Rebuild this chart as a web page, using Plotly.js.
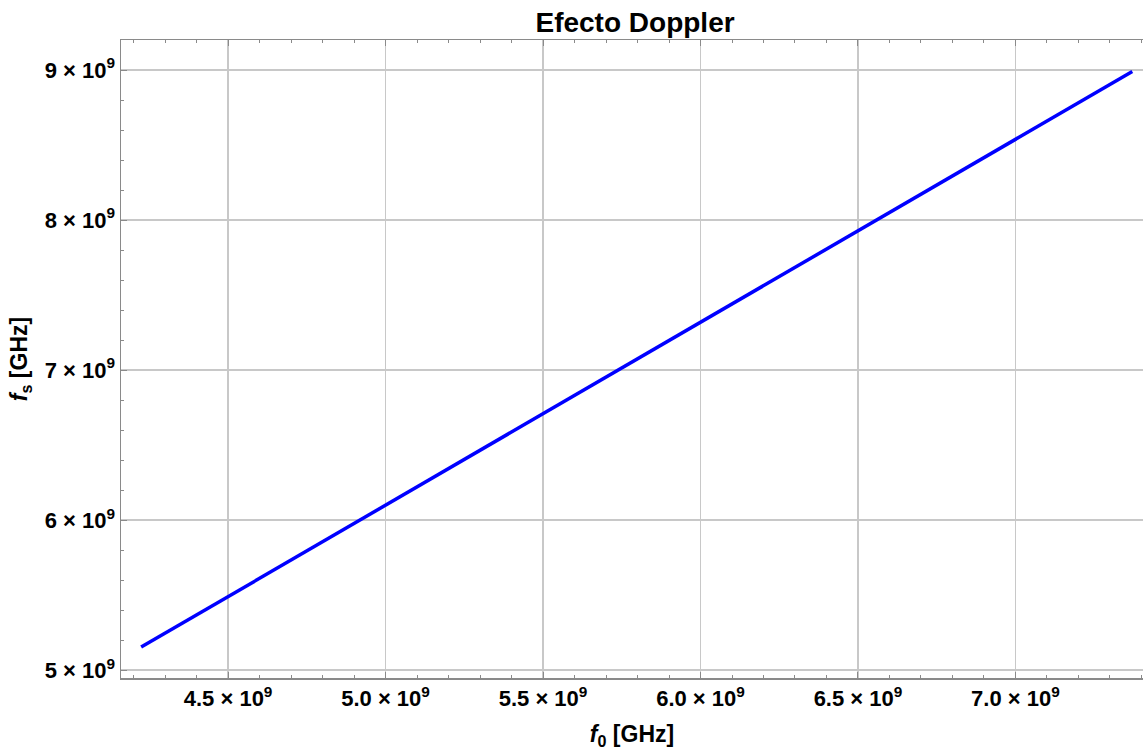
<!DOCTYPE html>
<html>
<head>
<meta charset="utf-8">
<script src="https://cdn.plot.ly/plotly-3.0.1.min.js"></script>
<style>
  html, body { margin: 0; padding: 0; background: #fff; }
  #chart { width: 1143px; height: 755px; }
</style>
</head>
<body>
<div id="chart"></div>
<script>
// Emitted frequency f0 and observed frequency fs (Hz)
const f0 = [4.224e9, 5.0e9, 5.5e9, 6.0e9, 6.5e9, 7.0e9, 7.371e9];
const fs = [5.153e9, 6.100e9, 6.710e9, 7.322e9, 7.932e9, 8.540e9, 8.990e9];

// Tick positions and labels
const xTickVals = [4.5e9, 5.0e9, 5.5e9, 6.0e9, 6.5e9, 7.0e9];
const xTickText = ['4.5', '5.0', '5.5', '6.0', '6.5', '7.0'];
const yTickVals = [5e9, 6e9, 7e9, 8e9, 9e9];
const yTickText = ['5', '6', '7', '8', '9'];

const sci = m => m + ' × 10<sup>9</sup>';
const FONT = 'Liberation Sans, Arial, sans-serif';

const trace = {
  x: f0,
  y: fs,
  type: 'scatter',
  mode: 'lines',
  line: { color: '#0000ff', width: 3.5 },
  hoverinfo: 'skip'
};

const axisCommon = {
  showline: true,
  linecolor: '#8a8a8a',
  linewidth: 1.5,
  ticks: 'inside',
  ticklen: 6,
  tickwidth: 1,
  tickcolor: '#8a8a8a',
  showgrid: true,
  gridcolor: '#c8c8c8',
  gridwidth: 1.5,
  zeroline: false,
  tickfont: { family: FONT, size: 22, color: '#000', weight: 'bold' }
};

const layout = {
  width: 1143,
  height: 755,
  margin: { l: 121, r: 0, t: 40, b: 77 },
  paper_bgcolor: '#ffffff',
  plot_bgcolor: '#ffffff',
  showlegend: false,
  title: {
    text: '<b>Efecto Doppler</b>',
    font: { family: FONT, size: 28, color: '#000' },
    x: 0.5556, xanchor: 'center',
    y: 0.970, yanchor: 'middle'
  },
  xaxis: Object.assign({}, axisCommon, {
    range: [4.16e9, 7.405e9],
    tickvals: xTickVals,
    ticktext: xTickText.map(sci),
    mirror: 'allticks',
    minor: { dtick: 1e8, ticklen: 3, tickcolor: '#8a8a8a', showgrid: false, ticks: 'inside' },
    title: {
      text: '<b><i>f</i><sub>0</sub> [GHz]</b>',
      font: { family: FONT, size: 23, color: '#000' },
      standoff: 16
    }
  }),
  yaxis: Object.assign({}, axisCommon, {
    range: [4.947e9, 9.2e9],
    tickvals: yTickVals,
    ticktext: yTickText.map(sci),
    mirror: false,
    minor: { dtick: 2e8, ticklen: 3, tickcolor: '#8a8a8a', showgrid: false, ticks: 'inside' },
    title: {
      text: '<b><i>f</i><sub>s</sub> [GHz]</b>',
      font: { family: FONT, size: 23, color: '#000' },
      standoff: 10
    }
  })
};

Plotly.newPlot('chart', [trace], layout, { displayModeBar: false, staticPlot: true });
</script>
</body>
</html>
